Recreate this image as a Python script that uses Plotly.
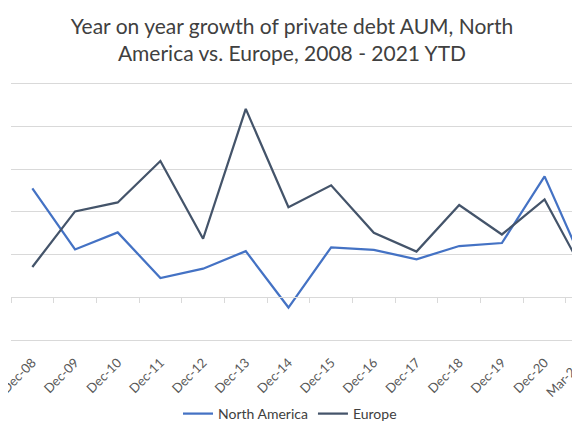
import plotly.graph_objects as go

categories = ["Dec-08", "Dec-09", "Dec-10", "Dec-11", "Dec-12", "Dec-13", "Dec-14",
              "Dec-15", "Dec-16", "Dec-17", "Dec-18", "Dec-19", "Dec-20", "Mar-21"]
north_america = [25.5, 11.2, 15.2, 4.5, 6.7, 10.8, -2.4, 11.7, 11.1, 8.9, 12.0, 12.7, 28.3, 5.8]
europe = [7.1, 20.1, 22.2, 31.9, 13.7, 44.1, 21.1, 26.2, 15.1, 10.7, 21.6, 14.7, 22.9, 4.4]

title_text = "Year on year growth of private debt AUM, North<br>America vs. Europe, 2008 - 2021 YTD"

BLUE = "#4472C4"
DARK = "#44546A"
GRID = "#d9d9d9"
FONT = "Lato"

W, H = 572, 419
y_min, y_max = -10, 50
y_top = y_max + 0.4
x_lo, x_hi = -0.5, 12.83

fig = go.Figure()
fig.add_trace(go.Scatter(x=categories, y=north_america, name="North America",
                         mode="lines", line=dict(color=BLUE, width=2.25)))
fig.add_trace(go.Scatter(x=categories, y=europe, name="Europe",
                         mode="lines", line=dict(color=DARK, width=2.25)))
# helper trace defining the category axis drawn at zero
fig.add_trace(go.Scatter(x=categories, y=[None] * len(categories), xaxis="x2",
                         mode="lines", showlegend=False, hoverinfo="skip"))

zero_pos = (0 - y_min) / (y_top - y_min)

fig.update_layout(
    width=W, height=H,
    margin=dict(l=3, r=0, t=74, b=87, autoexpand=False),
    paper_bgcolor="white", plot_bgcolor="white",
    font=dict(family=FONT, color="#595959"),
    title=dict(text=title_text, x=284 / W, xanchor="center", xref="container",
               y=1 - 26 / H, yanchor="top", yref="container", automargin=False,
               font=dict(family=FONT, size=21, color="#404040")),
    xaxis=dict(type="category", categoryorder="array", categoryarray=categories,
               range=[x_lo, x_hi], showgrid=False, showline=True, linecolor=GRID,
               linewidth=1, ticks="", tickangle=-45, ticklabelstandoff=9,
               automargin=False,
               tickfont=dict(family=FONT, size=13, color="#595959"), zeroline=False),
    xaxis2=dict(type="category", categoryorder="array", categoryarray=categories,
                range=[x_lo, x_hi], overlaying="x", anchor="free", position=zero_pos,
                showline=True, linecolor=GRID, linewidth=1, ticks="outside",
                tickson="boundaries", ticklen=5, tickcolor=GRID, tickwidth=1,
                automargin=False,
                showticklabels=False, showgrid=False, zeroline=False),
    yaxis=dict(range=[y_min, y_top], dtick=10, showgrid=True, gridcolor=GRID,
               gridwidth=1, showticklabels=False, zeroline=False, showline=False,
               automargin=False),
    legend=dict(orientation="h", xref="container", yref="container", x=282 / W,
                xanchor="center", y=1 - 406 / H, yanchor="middle",
                font=dict(family=FONT, size=14, color="#404040"), itemwidth=30),
    showlegend=True,
)

# last category sits just past the visible range; label it where its tick would be
last_idx = len(categories) - 1
paper_x = (last_idx - x_lo) / (x_hi - x_lo)
fig.add_annotation(text=categories[-1], x=paper_x, xref="paper", y=-0.06, yref="paper",
                   xanchor="right", yanchor="top", textangle=-45, showarrow=False,
                   font=dict(family=FONT, size=13, color="#595959"))

fig.write_html("out.html")
